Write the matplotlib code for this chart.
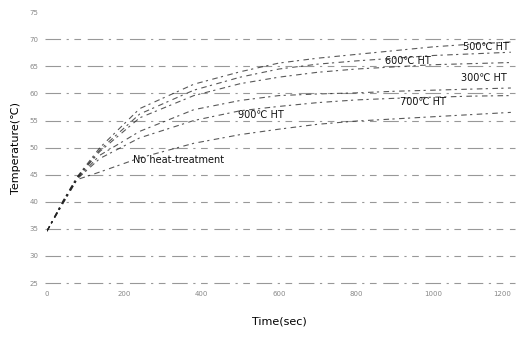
import matplotlib
matplotlib.use('Agg')
import matplotlib.pyplot as plt

# time (sec) and temperature (C)
t = [0, 40, 78, 137, 240, 380, 500, 600, 700, 800, 900, 1000, 1100, 1200]
ht500 = [34.6, 40.0, 44.6, 50.0, 57.2, 61.7, 64.0, 65.6, 66.5, 67.2, 67.9, 68.6, 69.1, 69.5]
ht600 = [34.6, 39.9, 44.5, 49.6, 56.2, 60.6, 63.0, 64.5, 65.4, 66.0, 66.5, 67.0, 67.3, 67.6]
ht300 = [34.6, 39.8, 44.4, 49.3, 55.5, 59.6, 61.8, 63.0, 63.9, 64.5, 64.9, 65.3, 65.5, 65.7]
ht700 = [34.6, 39.7, 44.3, 48.6, 53.0, 57.0, 58.7, 59.6, 59.9, 60.1, 60.4, 60.6, 60.8, 61.0]
ht900 = [34.6, 39.6, 44.2, 48.0, 51.8, 55.0, 56.8, 57.6, 58.3, 58.8, 59.1, 59.3, 59.5, 59.6]
no_ht = [34.6, 39.5, 44.1, 45.5, 48.1, 50.8, 52.4, 53.4, 54.3, 54.9, 55.3, 55.7, 56.1, 56.5]

xticks = [0, 200, 400, 600, 800, 1000, 1200]
yticks = [25, 30, 35, 40, 45, 50, 55, 60, 65, 70, 75]
grid_y = [25, 30, 35, 40, 45, 50, 55, 60, 65, 70]

labels = ["500\u2103 HT", "600\u2103 HT", "300\u2103 HT", "700\u2103 HT", "900\u2103 HT", "No heat-treatment"]
label_pos = [(1076, 68.6), (874, 65.9), (1070, 62.8), (913, 58.4), (494, 56.1), (222, 47.7)]

fig = plt.figure(figsize=(5.16, 3.37), dpi=100)
ax = fig.add_axes([0.091, 0.160, 0.899, 0.804])

for g in grid_y:
    ax.axhline(g, color='#333333', lw=0.8, alpha=0.5,
               linestyle=(0, (14, 5, 2, 5, 6, 6)), xmin=-0.005, xmax=1.01, clip_on=False)

for y in [ht500, ht600, ht300, ht700, ht900, no_ht]:
    ax.plot(t, y, color='#222222', lw=0.8, alpha=0.75, linestyle=(0, (5, 3, 2, 4)))

for s, (x, y) in zip(labels, label_pos):
    ax.text(x, y, s, fontsize=7, color='#111111', ha='left', va='center')

ax.set_xlim(0, 1200)
ax.set_ylim(25, 75)
ax.set_xticks(xticks)
ax.set_yticks(yticks)
ax.set_xticklabels([str(v) for v in xticks], fontsize=5, color='#888888')
ax.set_yticklabels([str(v) for v in yticks], fontsize=5, color='#888888')
ax.get_xticklabels()[-1].set_ha('right')
ax.tick_params(length=0, pad=6)
for sp in ax.spines.values():
    sp.set_visible(False)

ax.set_xlabel("Time(sec)", fontsize=8, labelpad=14)
ax.set_ylabel("Temperature(\u2103)", fontsize=8, labelpad=6)

fig.savefig("out.png", dpi=100)
